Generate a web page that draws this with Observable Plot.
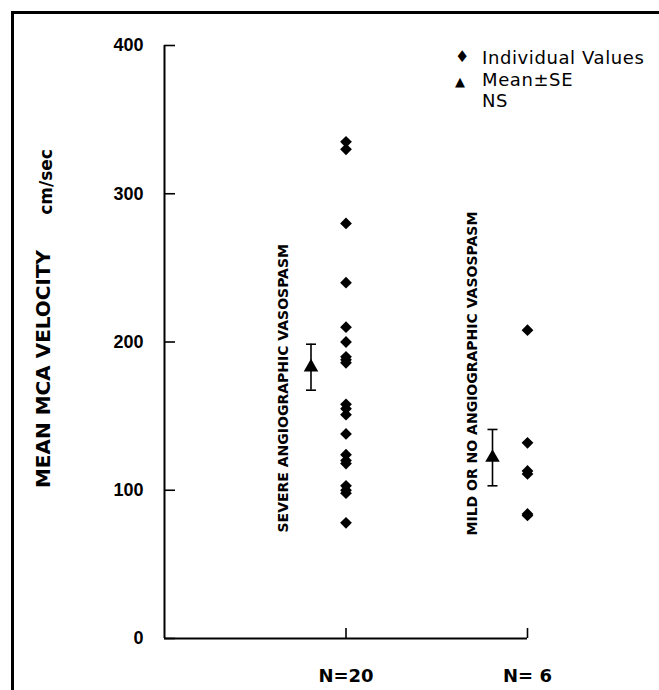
<!DOCTYPE html>
<html>
<head>
<meta charset="utf-8">
<script src="https://cdn.jsdelivr.net/npm/d3@7"></script>
<script src="https://cdn.jsdelivr.net/npm/@observablehq/plot@0.6"></script>
<style>
  html, body { margin: 0; padding: 0; background: #fff; }
  #wrap { position: relative; width: 659px; height: 690px; overflow: hidden; background: #fff; }
  #frame { position: absolute; left: 11px; top: 11px; right: -5px; bottom: -5px; border-top: 3px solid #000; border-left: 3px solid #000; }
  #chart { position: absolute; left: 0; top: 0; }
  .leg { position: absolute; font-family: "DejaVu Sans", sans-serif; font-size: 18px; letter-spacing: 0.6px; color: #000; line-height: 20px; white-space: nowrap; }
  .sym { position: absolute; font-family: "DejaVu Sans", sans-serif; color: #000; line-height: 20px; }
</style>
</head>
<body>
<div id="wrap">
  <div id="frame"></div>
  <div id="chart"></div>
  <span class="sym" style="left:455px; top:47px; font-size:16px;">&#x2666;</span>
  <span class="leg" style="left:482px; top:48px;">Individual Values</span>
  <span class="sym" style="left:455px; top:72px; font-size:13px;">&#x25B2;</span>
  <span class="leg" style="left:482px; top:70px;">Mean±SE</span>
  <span class="leg" style="left:482px; top:91px;">NS</span>
</div>
<script>
// ---- data ----
const groupIndex = [1, 2];
const groupCounts = ["N=20", "N= 6"];
const groupNames = ["SEVERE ANGIOGRAPHIC VASOSPASM", "MILD OR NO ANGIOGRAPHIC VASOSPASM"];
const severeValues = [335, 330, 280, 240, 210, 200, 190, 188, 186, 158, 155, 151, 138, 124, 120, 118, 103, 100, 98, 78];
const mildValues = [208, 132, 113, 111, 84, 83];
const meanValues = [183, 122];
const seValues = [15.5, 19];
const yTicks = [0, 100, 200, 300, 400];
const yTitle = "MEAN MCA VELOCITY";
const yUnit = "cm/sec";

// ---- tables built from the arrays ----
const points = [
  ...severeValues.map(v => ({g: groupIndex[0], v})),
  ...mildValues.map(v => ({g: groupIndex[1], v}))
];
const means = groupIndex.map((g, i) => ({g, m: meanValues[i], lo: meanValues[i] - seValues[i], hi: meanValues[i] + seValues[i]}));
const caps = means.flatMap(d => [{g: d.g, v: d.lo}, {g: d.g, v: d.hi}]);

const capSymbol = {
  draw(ctx, size) {
    const r = Math.sqrt(size / Math.PI);
    ctx.moveTo(-r, 0);
    ctx.lineTo(r, 0);
  }
};

const black = "#000";
const chart = Plot.plot({
  width: 659,
  height: 690,
  marginLeft: 164,
  marginRight: 132,
  marginTop: 45,
  marginBottom: 52,
  style: {background: "transparent", color: black},
  x: {type: "linear", domain: [0, 2], axis: null},
  y: {type: "linear", domain: [0, 400], axis: null},
  marks: [
    Plot.ruleX([0], {stroke: black, strokeWidth: 2}),
    Plot.ruleY([0], {stroke: black, strokeWidth: 2}),
    Plot.axisY({
      ticks: yTicks, tickSize: -11, tickPadding: 32, label: null,
      fontSize: 18, fontWeight: "bold", fontFamily: "Liberation Sans, Arial, sans-serif",
      stroke: black, strokeWidth: 1.6
    }),
    Plot.axisX({
      ticks: groupIndex, tickSize: -10, tickPadding: 41, label: null,
      tickFormat: d => groupCounts[groupIndex.indexOf(d)],
      fontSize: 18, fontWeight: "bold", fontFamily: "DejaVu Sans, sans-serif",
      stroke: black, strokeWidth: 1.6
    }),
    // individual values
    Plot.dot(points, {x: "g", y: "v", symbol: "diamond2", r: 5.3, fill: black, stroke: null}),
    // mean ± SE
    Plot.ruleX(means, {x: "g", y1: "lo", y2: "hi", dx: -35, stroke: black, strokeWidth: 1.6}),
    Plot.dot(caps, {x: "g", y: "v", dx: -35, symbol: capSymbol, r: 5, stroke: black, strokeWidth: 1.6, fill: "none"}),
    Plot.dot(means, {x: "g", y: "m", dx: -35, symbol: "triangle", r: 5.4, fill: black, stroke: null}),
    // group labels (vertical)
    Plot.text([groupNames[0]], {x: [groupIndex[0]], frameAnchor: "bottom", text: d => d, rotate: -90, textAnchor: "start", lineAnchor: "middle",
      dx: -62, dy: -106, fontSize: 14, fontWeight: "bold", fontFamily: "DejaVu Sans, sans-serif", fill: black}),
    Plot.text([groupNames[1]], {x: [groupIndex[1]], frameAnchor: "bottom", text: d => d, rotate: -90, textAnchor: "start", lineAnchor: "middle",
      dx: -55, dy: -103, fontSize: 14, fontWeight: "bold", fontFamily: "DejaVu Sans, sans-serif", fill: black}),
    // y axis titles
    Plot.text([yTitle], {frameAnchor: "left", text: d => d, rotate: -90, textAnchor: "middle", lineAnchor: "middle",
      dx: -121, dy: 27, fontSize: 20, fontWeight: "bold", fontFamily: "DejaVu Sans, sans-serif", fill: black}),
    Plot.text([yUnit], {frameAnchor: "left", text: d => d, rotate: -90, textAnchor: "middle", lineAnchor: "middle",
      dx: -118, dy: -160, fontSize: 17, fontWeight: "bold", fontFamily: "DejaVu Sans, sans-serif", fill: black})
  ]
});
document.getElementById("chart").appendChild(chart);
</script>
</body>
</html>
